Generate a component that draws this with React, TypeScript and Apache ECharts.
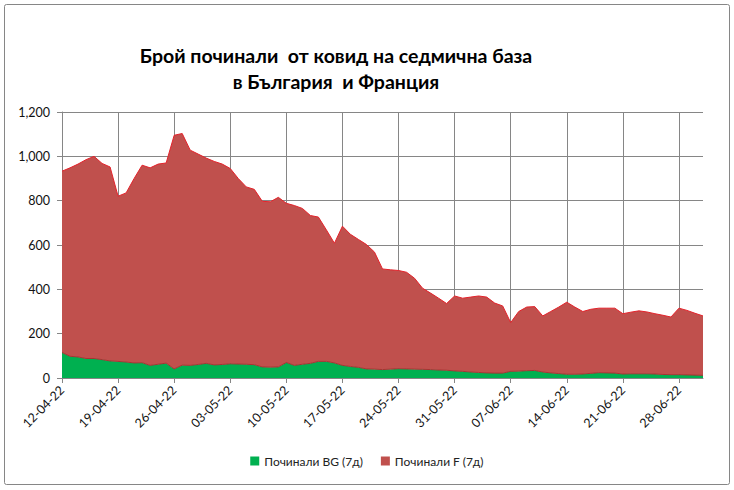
import React, { useEffect, useRef } from "react";
import * as echarts from "echarts";

const startDate = "2022-04-12";
const dayCount = 81;

function buildDates(start: string, n: number): string[] {
  const out: string[] = [];
  const d0 = new Date(start + "T00:00:00Z");
  for (let i = 0; i < n; i++) {
    const d = new Date(d0.getTime() + i * 86400000);
    const dd = String(d.getUTCDate()).padStart(2, "0");
    const mm = String(d.getUTCMonth() + 1).padStart(2, "0");
    const yy = String(d.getUTCFullYear()).slice(2);
    out.push(`${dd}-${mm}-${yy}`);
  }
  return out;
}

const categories = buildDates(startDate, dayCount);

const deathsBG = [
  115, 98, 95, 88, 88, 83, 77, 75, 72, 68, 69, 57, 62, 67, 41, 58, 57, 61, 66, 59,
  61, 64, 63, 62, 60, 50, 49, 50, 70, 57, 62, 66, 75, 75, 68, 57, 52, 48, 41, 40,
  38, 40, 42, 41, 40, 39, 38, 36, 35, 32, 30, 27, 25, 23, 22, 22, 30, 31, 33, 34,
  27, 23, 20, 17, 17, 18, 21, 24, 23, 22, 18, 19, 19, 19, 18, 16, 15, 15, 14, 13,
  12,
];

const deathsF = [
  818, 850, 870, 897, 912, 885, 875, 745, 763, 832, 891, 891, 903, 903, 1054, 1045, 971, 949, 926, 918,
  904, 881, 837, 800, 791, 747, 746, 765, 718, 721, 703, 667, 651, 593, 540, 628, 596, 577, 561, 528,
  454, 448, 443, 436, 410, 366, 345, 324, 301, 338, 330, 338, 345, 342, 316, 303, 220, 269, 287, 288,
  253, 277, 300, 325, 303, 282, 289, 291, 292, 293, 272, 278, 284, 279, 272, 267, 260, 300, 291, 279,
  268,
];

const seriesNames = ["Починали BG (7д)", "Починали F (7д)"];
const titleLines = ["Брой починали  от ковид на седмична база", "в България  и Франция"];

const FONT = "Lato, 'Open Sans', sans-serif";

export default function App() {
  const ref = useRef<HTMLDivElement>(null);

  useEffect(() => {
    if (!ref.current) return;
    const chart = echarts.init(ref.current, undefined, { renderer: "svg" });
    chart.setOption({
      animation: false,
      backgroundColor: "#ffffff",
      textStyle: { fontFamily: FONT },
      title: {
        text: titleLines.join("\n"),
        left: 331,
        top: 37,
        textAlign: "center",
        textStyle: {
          fontFamily: FONT,
          fontSize: 19.5,
          fontWeight: "bold",
          color: "#000",
          lineHeight: 26,
        },
      },
      graphic: [
        {
          type: "rect",
          shape: { x: 4.5, y: 4.5, width: 725, height: 480, r: 2 },
          style: { fill: "none", stroke: "#868686", lineWidth: 1 },
          silent: true,
        },
      ],
      legend: {
        bottom: 18,
        left: "center",
        itemWidth: 9,
        itemHeight: 9,
        itemGap: 18,
        icon: "rect",
        textStyle: { fontFamily: FONT, fontSize: 12, color: "#222" },
        data: seriesNames,
      },
      grid: { left: 62, right: 31, top: 112, bottom: 112, containLabel: false },
      xAxis: {
        type: "category",
        data: categories,
        boundaryGap: false,
        axisLine: { lineStyle: { color: "#868686" } },
        axisTick: { show: true, interval: 6, length: 5, lineStyle: { color: "#868686" } },
        axisLabel: {
          interval: 6,
          rotate: 45,
          fontSize: 12.5,
          color: "#111",
          fontFamily: FONT,
          margin: 10,
        },
        splitLine: { show: true, interval: 6, lineStyle: { color: "#868686", width: 1 } },
      },
      yAxis: {
        type: "value",
        min: 0,
        max: 1200,
        interval: 200,
        axisLine: { show: true, lineStyle: { color: "#868686" } },
        axisTick: { show: true, length: 5, lineStyle: { color: "#868686" } },
        axisLabel: {
          fontSize: 12.5,
          color: "#111",
          fontFamily: FONT,
          margin: 12,
          formatter: (v: number) => v.toLocaleString("en-US"),
        },
        splitLine: { show: true, lineStyle: { color: "#868686", width: 1 } },
      },
      series: [
        {
          name: seriesNames[0],
          type: "line",
          stack: "total",
          data: deathsBG,
          symbol: "none",
          color: "#00b050",
          lineStyle: { color: "#a83232", width: 1 },
          areaStyle: { color: "#00b050", opacity: 1 },
          z: 3,
        },
        {
          name: seriesNames[1],
          type: "line",
          stack: "total",
          data: deathsF,
          symbol: "none",
          color: "#c0504d",
          lineStyle: { color: "#e3232b", width: 1 },
          areaStyle: { color: "#c0504d", opacity: 1 },
          z: 2,
        },
      ],
    });
    return () => chart.dispose();
  }, []);

  return (
    <div
      ref={ref}
      style={{ position: "fixed", left: 0, top: 0, width: 734, height: 490, background: "#fff" }}
    />
  );
}
